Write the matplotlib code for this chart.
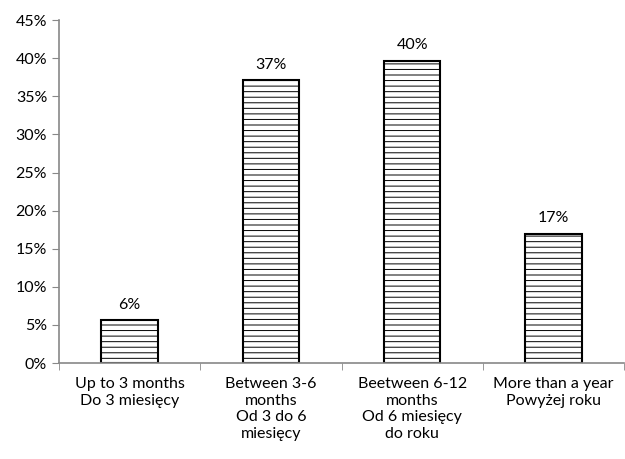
import matplotlib.pyplot as plt
import numpy as np
from matplotlib.ticker import FixedLocator, PercentFormatter

plt.rcParams['font.family'] = ['Lato', 'DejaVu Sans']
plt.rcParams['hatch.color'] = '#6a6a6a'
plt.rcParams['hatch.linewidth'] = 0.7

categories = ["Up to 3 months\nDo 3 miesięcy",
              "Between 3-6\nmonths\nOd 3 do 6\nmiesięcy",
              "Beetween 6-12\nmonths\nOd 6 miesięcy\ndo roku",
              "More than a year\nPowyżej roku"]
values = [5.6, 37.1, 39.7, 17.0]
labels = ["6%", "37%", "40%", "17%"]
y_ticks = [0, 5, 10, 15, 20, 25, 30, 35, 40, 45]

fig = plt.figure(figsize=(6.25, 4.59), dpi=100)
ax = fig.add_axes([0.0944, 0.209, 0.904, 0.747])

x = np.arange(len(categories))
bars = ax.bar(x, values, width=0.4, color='white', edgecolor='black',
              linewidth=1.5, hatch='---')
for b, lab in zip(bars, labels):
    ax.text(b.get_x() + b.get_width() / 2, b.get_height() + 1.1, lab,
            ha='center', va='bottom', fontsize=11.5)

ax.set_xlim(-0.5, len(categories) - 0.5)
ax.set_ylim(0, 45)
ax.set_yticks(y_ticks)
ax.yaxis.set_major_formatter(PercentFormatter(decimals=0))
ax.set_xticks(x)
ax.set_xticklabels(categories, fontsize=11.5, linespacing=1.25)
ax.xaxis.set_minor_locator(FixedLocator(np.arange(-0.5, len(categories), 1)))
ax.tick_params(axis='x', which='major', length=0, pad=10)
ax.tick_params(axis='x', which='minor', length=5, color='#888888')
ax.tick_params(axis='y', length=5, color='#888888', labelsize=11.5)

for s in ['top', 'right']:
    ax.spines[s].set_visible(False)
for s in ['left', 'bottom']:
    ax.spines[s].set_color('#888888')
    ax.spines[s].set_linewidth(1.2)

fig.savefig('out.png', dpi=100)
